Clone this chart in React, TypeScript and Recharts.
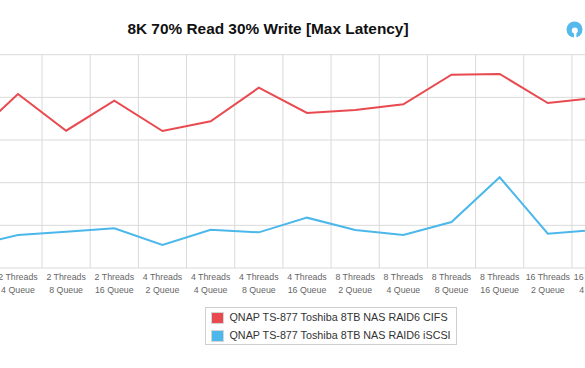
import { LineChart, Line, XAxis, YAxis, CartesianGrid, Legend } from "recharts";

const categories = [
  "2 Threads 2 Queue",
  "2 Threads 4 Queue",
  "2 Threads 8 Queue",
  "2 Threads 16 Queue",
  "4 Threads 2 Queue",
  "4 Threads 4 Queue",
  "4 Threads 8 Queue",
  "4 Threads 16 Queue",
  "8 Threads 2 Queue",
  "8 Threads 4 Queue",
  "8 Threads 8 Queue",
  "8 Threads 16 Queue",
  "16 Threads 2 Queue",
  "16 Threads 4 Queue",
];

// max latency, ms
const cifsLatency = [1506, 2039, 1609, 1961, 1606, 1719, 2113, 1817, 1852, 1919, 2266, 2274, 1934, 1995];
const iscsiLatency = [252, 387, 425, 465, 270, 449, 418, 590, 445, 387, 539, 1063, 402, 447];

const yTicks = [0, 500, 1000, 1500, 2000, 2500];

const RED = "#e84a50";
const BLUE = "#4bb7ea";

const data = categories.map((label, i) => ({
  label,
  idx: i,
  cifs: cifsLatency[i],
  iscsi: iscsiLatency[i],
}));

// grid lines sit between categories
const boundaries = categories.map((_, i) => i - 0.5).concat(categories.length - 0.5);

// axis ticks must exist for the grid, but draw nothing
const NoTick = () => <g />;

function CategoryTick({ x, y, payload }: any) {
  const m = String(payload.value).match(/^(.*Threads) (.*)$/);
  const top = m ? m[1] : payload.value;
  const bottom = m ? m[2] : "";
  return (
    <g transform={`translate(${x},${y})`}>
      <text textAnchor="middle" fill="#666" fontSize={8.8} fontFamily="Liberation Sans, Arial, sans-serif">
        <tspan x={0} y={12.3}>{top}</tspan>
        <tspan x={0} y={25}>{bottom}</tspan>
      </text>
    </g>
  );
}

function LegendBox({ payload }: any) {
  return (
    <div
      style={{
        boxSizing: "border-box",
        width: 252,
        height: 38,
        border: "1px solid #cfcfcf",
        fontFamily: "Liberation Sans, Arial, sans-serif",
        fontSize: 10.75,
        color: "#333",
        position: "relative",
      }}
    >
      {(payload || []).map((p: any, i: number) => (
        <div key={p.value} style={{ position: "absolute", left: 4.5, top: 3 + i * 18, height: 13, display: "flex", alignItems: "center" }}>
          <span
            style={{
              display: "inline-block",
              boxSizing: "border-box",
              width: 13,
              height: 12,
              background: p.color,
              border: "1px solid #d5d5d5",
              marginRight: 6,
            }}
          />
          <span style={{ whiteSpace: "nowrap", lineHeight: "13px" }}>{p.value}</span>
        </div>
      ))}
    </div>
  );
}

export default function App() {
  return (
    <div
      style={{
        position: "absolute",
        left: 0,
        top: 0,
        width: 585,
        height: 368,
        overflow: "hidden",
        background: "#fff",
        fontFamily: "Liberation Sans, Arial, sans-serif",
      }}
    >
      <div
        style={{
          position: "absolute",
          left: 0,
          top: 20,
          width: 536,
          textAlign: "center",
          fontWeight: "bold",
          fontSize: 15.4,
          lineHeight: "18px",
          color: "#111",
        }}
      >
        8K 70% Read 30% Write [Max Latency]
      </div>

      <svg style={{ position: "absolute", left: 566, top: 21 }} width={18} height={18}>
        <circle cx={8.5} cy={8.5} r={8} fill="#55b9ec" />
        <circle cx={8.8} cy={9.6} r={3} fill="#fff" />
        <rect x={8} y={11} width={2.4} height={6} fill="#fff" />
      </svg>

      <div style={{ position: "absolute", left: -100, top: 0 }}>
        <LineChart
          width={800}
          height={368}
          data={data}
          margin={{ top: 54.7, left: 45.7, right: 79.9, bottom: 70 }}
        >
          <CartesianGrid xAxisId="grid" stroke="#dadada" strokeWidth={1} />
          <XAxis
            xAxisId="grid"
            type="number"
            dataKey="idx"
            domain={[-0.5, categories.length - 0.5]}
            ticks={boundaries}
            interval={0}
            tick={<NoTick />}
            tickLine={false}
            axisLine={false}
            height={0}
          />
          <XAxis
            xAxisId="labels"
            dataKey="label"
            type="category"
            scale="band"
            interval={0}
            tick={<CategoryTick />}
            tickLine={false}
            axisLine={false}
            tickSize={0}
            tickMargin={0}
            height={30}
          />
          <YAxis
            domain={[0, 2500]}
            ticks={yTicks}
            interval={0}
            width={0}
            tick={<NoTick />}
            tickLine={false}
            axisLine={false}
          />
          <Legend
            layout="horizontal"
            align="center"
            verticalAlign="middle"
            wrapperStyle={{ left: 305, top: 307.3, width: 252, height: 38 }}
            content={<LegendBox />}
          />
          <Line
            xAxisId="grid"
            name="QNAP TS-877 Toshiba 8TB NAS RAID6 CIFS"
            dataKey="cifs"
            stroke={RED}
            strokeWidth={2}
            dot={false}
            type="linear"
            isAnimationActive={false}
          />
          <Line
            xAxisId="grid"
            name="QNAP TS-877 Toshiba 8TB NAS RAID6 iSCSI"
            dataKey="iscsi"
            stroke={BLUE}
            strokeWidth={2}
            dot={false}
            type="linear"
            isAnimationActive={false}
          />
        </LineChart>
      </div>
    </div>
  );
}
